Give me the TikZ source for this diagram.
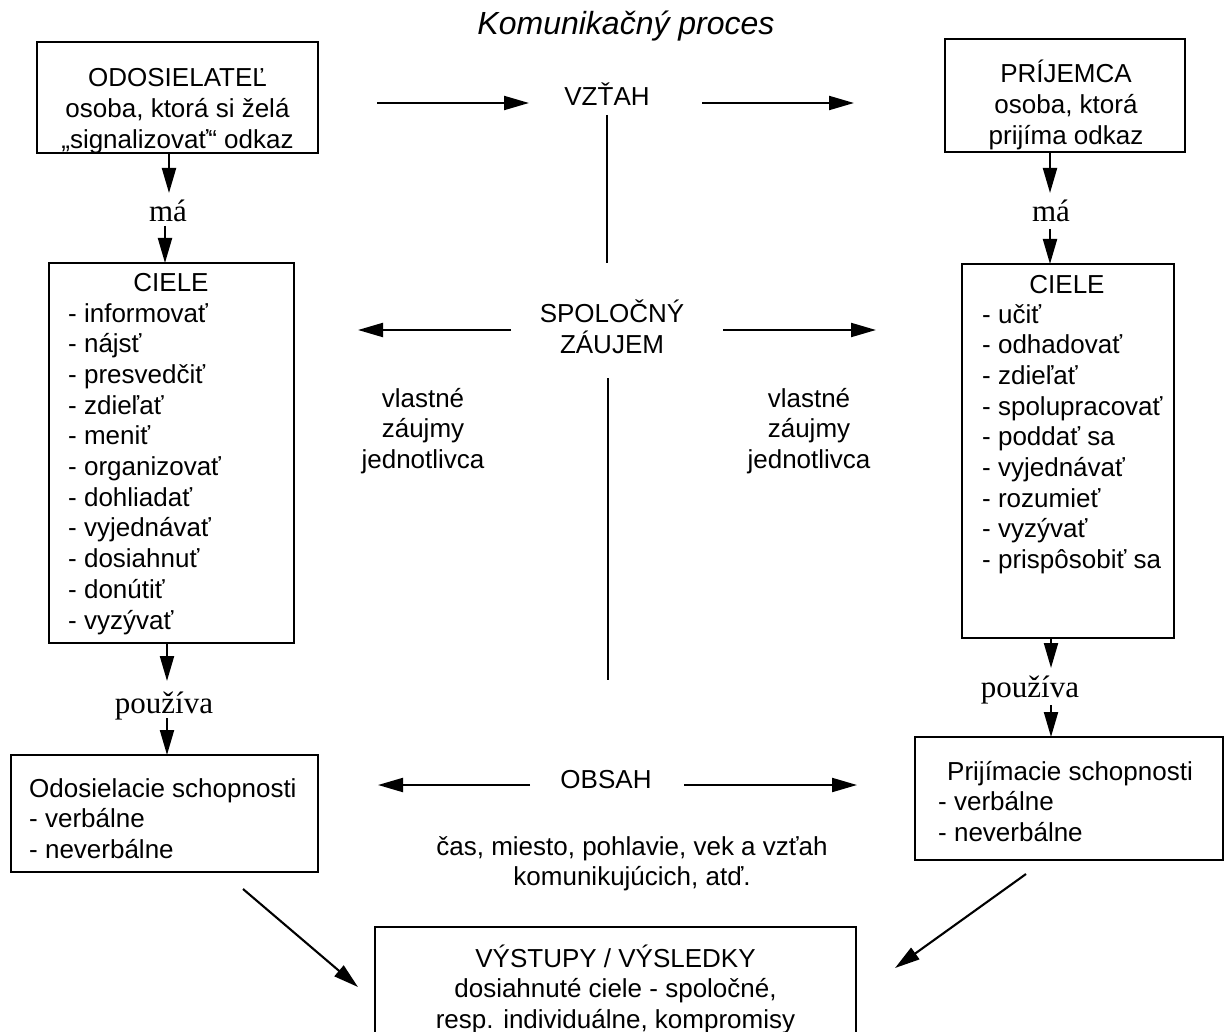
\documentclass[tikz,border=0pt]{standalone}
\usepackage{fontspec}
\setmainfont{Liberation Sans}
\newfontfamily\seriffont{Liberation Serif}
\usetikzlibrary{arrows.meta,calc}
\begin{document}
\begin{tikzpicture}[x=1pt,y=-1pt,
  box/.style={draw, line width=2.1pt, inner sep=0pt, outer sep=0pt, anchor=north west},
  txt/.style={inner sep=0pt, font=\fontsize{26}{30.7}\selectfont},
  ctxt/.style={txt, anchor=base},
  ltxt/.style={txt, anchor=base west},
  sertxt/.style={inner sep=0pt, anchor=base, font=\seriffont\fontsize{31}{36}\selectfont},
  arr/.style={line width=2.1pt, -{Triangle[length=25pt,width=14pt]}},
  ln/.style={line width=2.1pt},
]
\clip (0,0) rectangle (1225,1032);
\fill[white] (0,0) rectangle (1225,1032);

% title
\node[inner sep=0pt, anchor=base, font=\itshape\fontsize{32}{38}\selectfont] (title) at (626,35) {Komunikačný proces};

% ---------- left column ----------
\node[box, minimum width=281pt, minimum height=111pt] (odos) at (37,42) {};
\begin{scope}
  \clip (37,42) rectangle (318,152);
  \node[ctxt] (odost) at (177.5,87) {\begin{tabular}[t]{@{}c@{}}ODOSIELATEĽ\\osoba, ktorá si želá\\„signalizovať“ odkaz\end{tabular}};
\end{scope}
\node[sertxt] (maL) at (168,222) {má};
\node[box, minimum width=245pt, minimum height=380pt] (cielL) at (49,263) {};
\node[ctxt] (cielLt) at (171,291) {CIELE};
\node[ltxt] (cielLl) at (68,322) {\begin{tabular}[t]{@{}l@{}}- informovať\\- nájsť\\- presvedčiť\\- zdieľať\\- meniť\\- organizovať\\- dohliadať\\- vyjednávať\\- dosiahnuť\\- donútiť\\- vyzývať\end{tabular}};
\node[sertxt] (pouzL) at (164,713) {používa};
\node[box, minimum width=307pt, minimum height=117pt] (odosk) at (11,755) {};
\node[ltxt] (odoskt) at (29,797) {\begin{tabular}[t]{@{}l@{}}Odosielacie schopnosti\\- verbálne\\- neverbálne\end{tabular}};

\coordinate (p1) at (169,193);
\coordinate (p2) at (165,226);
\coordinate (p3) at (167,681);
\coordinate (p4) at (167,718);
\draw[arr] (odos.south -| p1) -- (p1);
\draw[arr] (p2) -- (cielL.north -| p2);
\draw[arr] (cielL.south -| p3) -- (p3);
\draw[arr] (p4) -- (odosk.north -| p4);

% ---------- right column ----------
\node[box, minimum width=240pt, minimum height=113pt] (prij) at (945,39) {};
\node[ctxt] (prijt) at (1066,83) {\begin{tabular}[t]{@{}c@{}}PRÍJEMCA\\osoba, ktorá\\prijíma odkaz\end{tabular}};
\node[sertxt] (maR) at (1051,222) {má};
\node[box, minimum width=212pt, minimum height=374pt] (cielR) at (962,264) {};
\node[ctxt] (cielRt) at (1067,293) {CIELE};
\node[ltxt] (cielRl) at (982,323) {\begin{tabular}[t]{@{}l@{}}- učiť\\- odhadovať\\- zdieľať\\- spolupracovať\\- poddať sa\\- vyjednávať\\- rozumieť\\- vyzývať\\- prispôsobiť sa\end{tabular}};
\node[sertxt] (pouzR) at (1030,697) {používa};
\node[box, minimum width=308pt, minimum height=123pt] (prijk) at (915,737) {};
\node[ltxt] (prijkt) at (938,780) {\begin{tabular}[t]{@{}l@{}}\hspace{9pt}Prijímacie schopnosti\\- verbálne\\- neverbálne\end{tabular}};

\coordinate (q1) at (1050,193);
\coordinate (q2) at (1050,229);
\coordinate (q3) at (1051,668);
\coordinate (q4) at (1051,705);
\draw[arr] (prij.south -| q1) -- (q1);
\draw[arr] (q2) -- (cielR.north -| q2);
\draw[arr] (cielR.south -| q3) -- (q3);
\draw[arr] (q4) -- (prijk.north -| q4);

% ---------- centre ----------
\node[ctxt] (vztah) at (607,106) {VZŤAH};
\coordinate (v1) at (377,103);
\coordinate (v2) at (529,103);
\coordinate (v3) at (702,103);
\coordinate (v4) at (854,103);
\draw[arr] (v1) -- (v2);
\draw[arr] (v3) -- (v4);
\coordinate (l1) at (607,115);
\coordinate (l2) at (607,263);
\draw[ln] (l1) -- (l2);

\node[ctxt] (spol) at (612,322) {\begin{tabular}[t]{@{}c@{}}SPOLOČNÝ\\ZÁUJEM\end{tabular}};
\coordinate (s1) at (511,330);
\coordinate (s2) at (358,330);
\coordinate (s3) at (723,330);
\coordinate (s4) at (876,330);
\draw[arr] (s1) -- (s2);
\draw[arr] (s3) -- (s4);
\coordinate (l3) at (608,378);
\coordinate (l4) at (608,680);
\draw[ln] (l3) -- (l4);

\node[ctxt] (vlL) at (423,407) {\begin{tabular}[t]{@{}c@{}}vlastné\\záujmy\\jednotlivca\end{tabular}};
\node[ctxt] (vlR) at (809,407) {\begin{tabular}[t]{@{}c@{}}vlastné\\záujmy\\jednotlivca\end{tabular}};

\node[ctxt] (obsah) at (606,788) {OBSAH};
\coordinate (o1) at (530,785);
\coordinate (o2) at (378,785);
\coordinate (o3) at (684,785);
\coordinate (o4) at (857,785);
\draw[arr] (o1) -- (o2);
\draw[arr] (o3) -- (o4);

\node[ctxt] (cas) at (632,855) {\begin{tabular}[t]{@{}c@{}}čas, miesto, pohlavie, vek a vzťah\\komunikujúcich, atď.\end{tabular}};

% ---------- bottom ----------
\node[box, minimum width=481pt, minimum height=123pt] (vystup) at (375,927) {};
\node[ctxt] (vystupt) at (615.5,967) {\begin{tabular}[t]{@{}c@{}}VÝSTUPY / VÝSLEDKY\\dosiahnuté ciele - spoločné,\\resp. individuálne, kompromisy\end{tabular}};

\coordinate (d1) at (243,889);
\coordinate (d2) at (358,987);
\coordinate (d3) at (1026,874);
\coordinate (d4) at (895,968);
\draw[arr] (d1) -- (d2);
\draw[arr] (d3) -- (d4);
\end{tikzpicture}
\end{document}
